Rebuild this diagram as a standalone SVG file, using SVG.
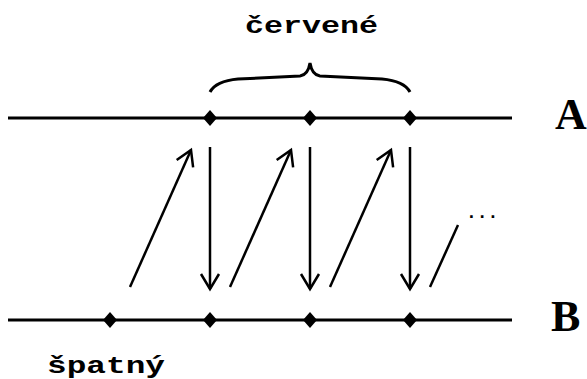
<svg xmlns="http://www.w3.org/2000/svg" width="587" height="379" viewBox="0 0 587 379">
<style>
.axis{stroke:#000;stroke-width:3;fill:none}
.arr{stroke:#000;stroke-width:2.5;fill:none;marker-end:url(#head)}
.brace{stroke:#000;stroke-width:3;fill:none}
.mono{font-family:"Liberation Mono","DejaVu Sans Mono",monospace;font-weight:bold;font-size:24px;fill:#000}
.big{font-family:"Liberation Serif","DejaVu Serif",serif;font-weight:bold;font-size:44px;fill:#000}
.dot{fill:#000}
</style>
<defs>
<marker id="head" markerUnits="userSpaceOnUse" markerWidth="22" markerHeight="22" viewBox="-18 -11 22 22" refX="0" refY="0" orient="auto">
<path d="M-15,-9 L0,0 L-15,9" stroke="#000" stroke-width="2.5" fill="none"/>
</marker>
<polygon id="dia" points="0,-8 7,0 0,8 -7,0"/>
</defs>
<rect width="587" height="379" fill="#fff"/>
<g id="lineA">
<line class="axis" x1="8" y1="118" x2="512" y2="118"/>
<text class="big" x="555" y="129">A</text>
</g>
<g id="lineB">
<line class="axis" x1="8" y1="320" x2="512" y2="320"/>
<text class="big" x="551" y="331">B</text>
</g>
<g id="pointsA" class="dot">
<use href="#dia" x="210" y="118"/>
<use href="#dia" x="310" y="118"/>
<use href="#dia" x="410" y="118"/>
</g>
<g id="pointsB" class="dot">
<use href="#dia" x="110" y="320"/>
<use href="#dia" x="210" y="320"/>
<use href="#dia" x="310" y="320"/>
<use href="#dia" x="410" y="320"/>
</g>
<g id="cervene">
<path class="brace" d="M210,92 Q216,81 238,79 L300,76 Q308,75 310,63 Q312,75 320,76 L382,79 Q404,81 410,92"/>
<text class="mono" x="245" y="33" textLength="133" lengthAdjust="spacingAndGlyphs">červené</text>
</g>
<g id="spatny">
<text class="mono" x="47" y="373" textLength="118" lengthAdjust="spacingAndGlyphs">špatný</text>
</g>
<g id="connectors">
<line class="arr" x1="130" y1="287" x2="191" y2="150"/>
<line class="arr" x1="230" y1="287" x2="291" y2="150"/>
<line class="arr" x1="330" y1="287" x2="391" y2="150"/>
<line class="arr" x1="210" y1="147" x2="210" y2="289"/>
<line class="arr" x1="310" y1="147" x2="310" y2="289"/>
<line class="arr" x1="410" y1="147" x2="410" y2="289"/>
<line stroke="#000" stroke-width="2.5" x1="430" y1="287" x2="458" y2="225"/>
<text x="466" y="218" style="font-family:'Liberation Mono',monospace;font-weight:bold;font-size:18px;fill:#000">...</text>
</g>
</svg>
